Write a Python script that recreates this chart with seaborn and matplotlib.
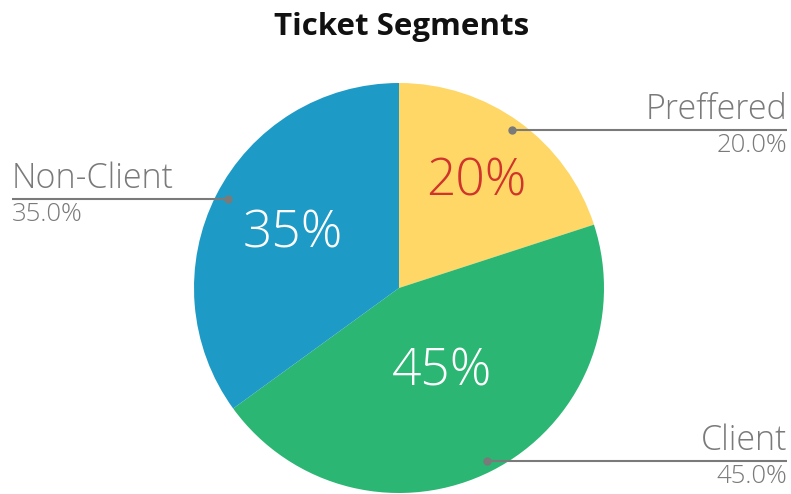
import matplotlib
matplotlib.use("Agg")
import matplotlib.pyplot as plt
import seaborn as sns
import numpy as np

categories = ["Preffered", "Client", "Non-Client"]
values = [20, 45, 35]
colors = ["#FED766", "#2BB673", "#1D9BC6"]
inner_colors = ["#D0342C", "#FFFFFF", "#FFFFFF"]
inner_dist = [0.64, 0.46, 0.58]

sns.set_theme(style="white")
plt.rcParams['font.family'] = ['Open Sans', 'DejaVu Sans']

W, H = 791, 494
fig = plt.figure(figsize=(W / 100, H / 100), dpi=100)
ax = fig.add_axes([0, 0, 1, 1])

cx, cy, r = 399, H - 288, 205
wedges, texts, autotexts = ax.pie(
    values, colors=colors, startangle=90, counterclock=False,
    center=(cx, cy), radius=r, autopct="%d%%", pctdistance=0.6,
    wedgeprops=dict(linewidth=0), textprops=dict(fontsize=37, fontweight="light"),
    frame=True)
ax.set_xlim(0, W)
ax.set_ylim(0, H)
ax.set_aspect("equal")
ax.axis("off")
for w, t, c, d in zip(wedges, autotexts, inner_colors, inner_dist):
    t.set_color(c)
    ang = np.deg2rad((w.theta1 + w.theta2) / 2)
    t.set_position((cx + d * r * np.cos(ang), cy + d * r * np.sin(ang)))

# label annotations: (dot x, dot y, line end x, align)
label_specs = {
    "Preffered": (512, 130, 787, "right"),
    "Client": (487, 461, 787, "right"),
    "Non-Client": (228, 199, 12, "left"),
}
gray = "#7A7A7A"
for cat, v in zip(categories, values):
    dx, dy, ex, ha = label_specs[cat]
    y = H - dy
    ax.plot([dx, ex], [y, y], color=gray, lw=1.5, solid_capstyle="butt")
    ax.plot([dx], [y], "o", color=gray, ms=5)
    ax.text(ex, y + 3, cat, ha=ha, va="bottom", fontsize=24.5, color=gray, fontweight="light")
    ax.text(ex, y - 3, f"{v:.1f}%", ha=ha, va="top", fontsize=18.5, color=gray, fontweight="light")

ax.text(402, H - 27, "Ticket Segments", ha="center", va="center", fontsize=22.5,
        fontweight="bold", color="#111111")

fig.savefig("out.png", dpi=100)
